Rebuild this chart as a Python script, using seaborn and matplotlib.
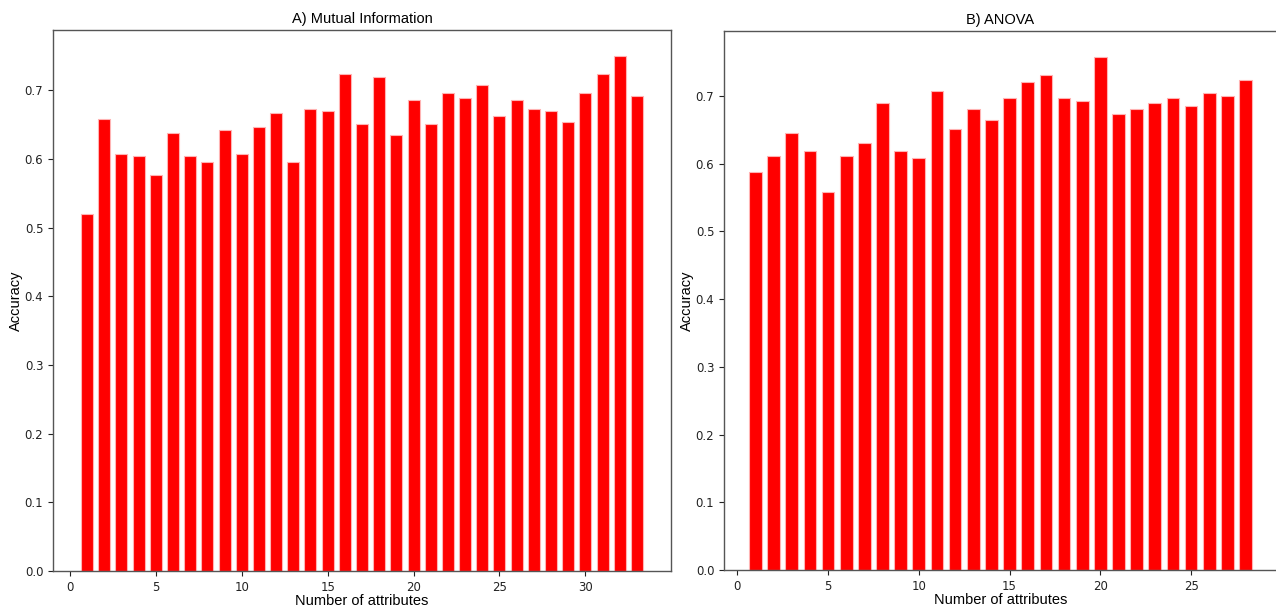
import matplotlib
matplotlib.use("Agg")
import matplotlib.pyplot as plt
import seaborn as sns
import pandas as pd

mi_attrs = list(range(1, 34))
mi_acc = [0.520, 0.658, 0.607, 0.604, 0.576, 0.638, 0.604, 0.596, 0.642, 0.607,
          0.646, 0.666, 0.596, 0.673, 0.670, 0.723, 0.650, 0.719, 0.634, 0.685,
          0.650, 0.696, 0.689, 0.707, 0.662, 0.685, 0.673, 0.670, 0.654, 0.696,
          0.723, 0.750, 0.692]

anova_attrs = list(range(1, 29))
anova_acc = [0.588, 0.612, 0.646, 0.619, 0.558, 0.612, 0.631, 0.689, 0.619, 0.608,
             0.708, 0.651, 0.681, 0.665, 0.697, 0.720, 0.731, 0.697, 0.692, 0.758,
             0.673, 0.681, 0.689, 0.697, 0.685, 0.704, 0.700, 0.723]

titles = ["A) Mutual Information", "B) ANOVA"]
xlabel = "Number of attributes"
ylabel = "Accuracy"

label_font = ["Liberation Sans Narrow", "Liberation Sans", "DejaVu Sans"]

fig = plt.figure(figsize=(12.76, 6.07), dpi=100)
ax1 = fig.add_axes([53/1276, 1 - 571/607, (671-53)/1276, (571-30)/607])
ax2 = fig.add_axes([724/1276, 1 - 570/607, (1277-724)/1276, (570-31)/607])

for ax, xs, ys, title in [(ax1, mi_attrs, mi_acc, titles[0]),
                          (ax2, anova_attrs, anova_acc, titles[1])]:
    df = pd.DataFrame({"n": xs, "acc": ys})
    sns.barplot(data=df, x="n", y="acc", native_scale=True, width=0.7,
                color="red", saturation=1, edgecolor="#ffb3b3", linewidth=0.8,
                errorbar=None, ax=ax)
    lo, hi = min(xs) - 0.35, max(xs) + 0.35
    pad = (hi - lo) * 0.05
    ax.set_xlim(lo - pad, hi + pad)
    ax.set_ylim(0, max(ys) * 1.05)
    ax.set_title(title, fontsize=10.5, family=label_font, pad=5)
    ax.set_xlabel(xlabel, fontsize=10.5, family=label_font, labelpad=0)
    ax.set_ylabel(ylabel, fontsize=10.5, family=label_font, labelpad=1)
    ax.tick_params(labelsize=8.5, colors="#222222")
    for s in ax.spines.values():
        s.set_color("#555555")
        s.set_linewidth(1.0)

fig.savefig("out.png", dpi=100)
